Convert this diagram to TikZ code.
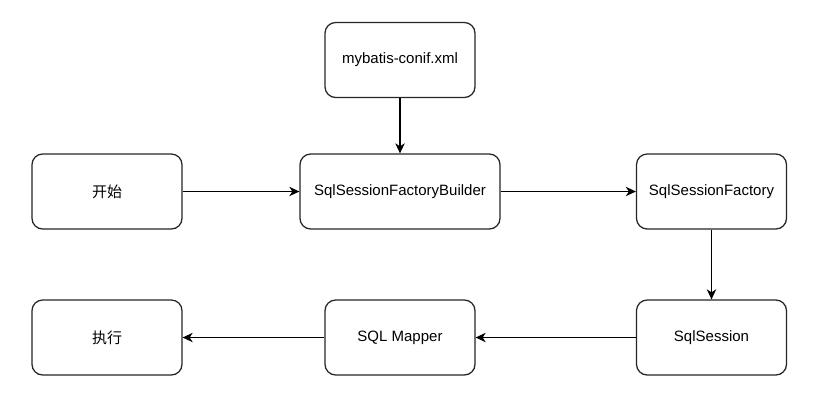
\documentclass[tikz,border=0pt]{standalone}
\usepackage{fontspec}
\setmainfont{Liberation Sans}
\newfontfamily\cjk{Noto Sans CJK SC}
\usetikzlibrary{arrows.meta}
\begin{document}
\begin{tikzpicture}[x=0.75pt,y=-0.75pt,
  box/.style={draw=black!85, line width=0.95pt, rounded corners=8pt, fill=white,
    minimum width=112.5pt, minimum height=56.25pt, inner sep=0pt,
    font=\fontsize{11.25}{13.5}\selectfont, text=black},
  wide/.style={minimum width=150pt},
  conn/.style={line width=0.95pt, draw=black, -{Stealth[length=7.5pt,width=7pt,inset=2.2pt]}}]
\useasboundingbox (0,0) rectangle (824,401);
\node[box] (xml) at (400,60) {mybatis-conif.xml};
\node[box] (start) at (107,191.5) {\cjk 开始};
\node[box,wide] (sfb) at (400,191.5) {SqlSessionFactoryBuilder};
\node[box] (sf) at (711.5,191.5) {SqlSessionFactory};
\node[box] (exec) at (107,337.5) {\cjk 执行};
\node[box] (mapper) at (400,337.5) {SQL Mapper};
\node[box] (ss) at (711.5,337.5) {SqlSession};
\draw[conn] (xml) -- (sfb);
\draw[conn] (start) -- (sfb);
\draw[conn] (sfb) -- (sf);
\draw[conn] (sf) -- (ss);
\draw[conn] (ss) -- (mapper);
\draw[conn] (mapper) -- (exec);
\end{tikzpicture}
\end{document}
